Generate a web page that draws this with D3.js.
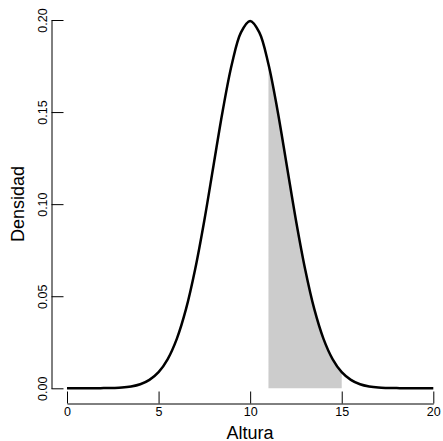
<!DOCTYPE html>
<html>
<head>
<meta charset="utf-8">
<script src="https://cdn.jsdelivr.net/npm/d3@7"></script>
<style>
  body { margin: 0; background: #fff; }
  text { font-family: "Liberation Sans", Arial, sans-serif; fill: #000; }
</style>
</head>
<body>
<script>
// altura (x) and densidad, every half unit
const alturas = d3.range(0, 20.001, 0.5)
const densidades = [
    0.0000, 0.0000, 0.0000, 0.0000, 0.0001, 0.0002, 0.0004, 0.0010, 0.0022, 0.0046,
    0.0088, 0.0159, 0.0270, 0.0431, 0.0648, 0.0913, 0.1210, 0.1506, 0.1760, 0.1933,
    0.1995,
    0.1933, 0.1760, 0.1506, 0.1210, 0.0913, 0.0648, 0.0431, 0.0270, 0.0159, 0.0088,
    0.0046, 0.0022, 0.0010, 0.0004, 0.0002, 0.0001, 0.0000, 0.0000, 0.0000, 0.0000
]
const sombra = [11, 15]
const xTicks = [0, 5, 10, 15, 20]
const yTicks = [0, 0.05, 0.10, 0.15, 0.20]

const W = 443, H = 441
const puntos = alturas.map((a, i) => ({ x: a, y: densidades[i] }))

const svg = d3.select('body').append('svg')
    .attr('width', W)
    .attr('height', H)

const x = d3.scaleLinear().domain([0, 20]).range([67, 433.3])
const y = d3.scaleLinear().domain([0, 0.20]).range([388.3, 20])

// shaded region
svg.append('path')
    .datum(puntos.filter(d => d.x >= sombra[0] && d.x <= sombra[1]))
    .attr('fill', '#cccccc')
    .attr('d', d3.area()
        .x(d => x(d.x))
        .y0(y(0))
        .y1(d => y(d.y))
        .curve(d3.curveCatmullRom))

// density curve
svg.append('path')
    .datum(puntos)
    .attr('fill', 'none')
    .attr('stroke', '#000')
    .attr('stroke-width', 2.5)
    .attr('d', d3.line()
        .x(d => x(d.x))
        .y(d => y(d.y))
        .curve(d3.curveCatmullRom))

// x axis
const gx = svg.append('g')
    .attr('transform', 'translate(0,403.5)')
    .call(d3.axisBottom(x)
        .tickValues(xTicks)
        .tickFormat(d3.format('d'))
        .tickSize(-12)
        .tickSizeOuter(0)
        .tickPadding(4))
gx.selectAll('text').style('font-size', '12.5px')

// y axis
const gy = svg.append('g')
    .attr('transform', 'translate(51.5,0)')
    .call(d3.axisLeft(y)
        .tickValues(yTicks)
        .tickFormat(d3.format('.2f'))
        .tickSize(-12)
        .tickSizeOuter(0))
gy.selectAll('text')
    .style('font-size', '12.5px')
    .attr('text-anchor', 'middle')
    .attr('x', 0)
    .attr('y', -4.5)
    .attr('dy', null)
    .attr('transform', 'rotate(-90)')

svg.selectAll('.domain, .tick line').attr('stroke', '#000')

svg.append('text')
    .attr('x', 250)
    .attr('y', 439)
    .attr('text-anchor', 'middle')
    .style('font-size', '18px')
    .text('Altura')

svg.append('text')
    .attr('transform', 'translate(23.5,204) rotate(-90)')
    .attr('text-anchor', 'middle')
    .style('font-size', '18px')
    .text('Densidad')
</script>
</body>
</html>
